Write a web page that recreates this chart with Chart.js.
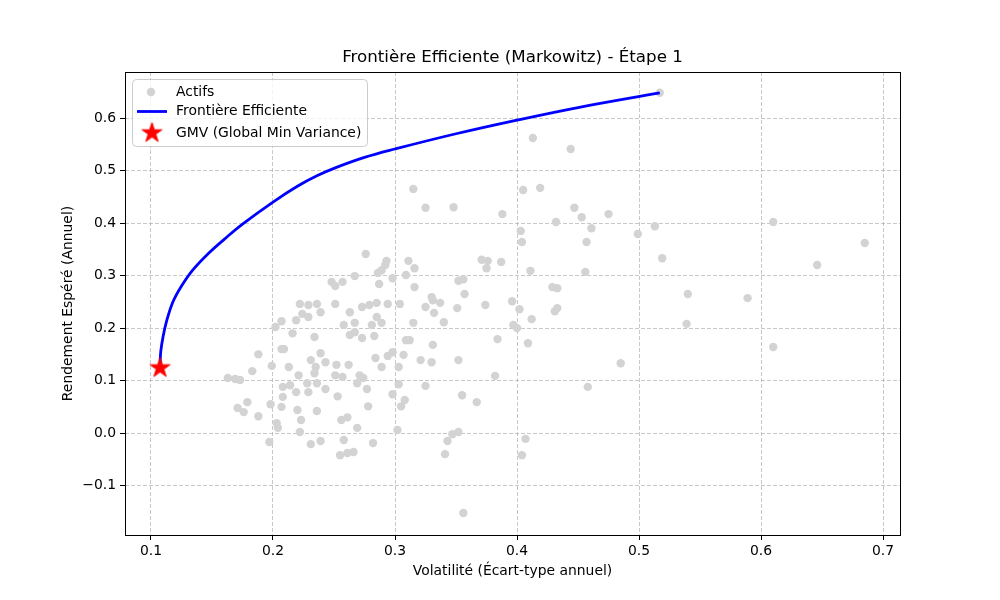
<!DOCTYPE html>
<html><head><meta charset="utf-8">
<script src="https://cdn.jsdelivr.net/npm/chart.js@4.4.0/dist/chart.umd.min.js"></script>
<style>html,body{margin:0;padding:0;background:#fff}#wrap{width:1000px;height:600px;position:relative}</style>
</head><body><div id="wrap"><canvas id="c" width="1000" height="600"></canvas></div>
<script>
const assetVol=[0.517,0.413,0.444,0.315,0.405,0.419,0.325,0.348,0.388,0.447,0.453,0.475,0.432,0.403,0.404,0.461,0.457,0.499,0.513,0.519,0.540,0.539,0.589,0.610,0.610,0.646,0.685,0.485,
0.371,0.376,0.375,0.387,0.411,0.456,0.356,0.352,0.429,0.433,0.357,0.374,0.396,0.402,0.351,0.433,0.431,0.412,0.397,0.400,0.384,0.409,0.352,0.382,0.458,0.355,
0.276,0.293,0.292,0.311,0.316,0.286,0.289,0.267,0.298,0.309,0.248,0.251,0.257,0.287,0.316,0.229,0.236,0.239,0.229,0.251,0.263,0.273,0.279,0.285,0.294,0.304,0.285,0.289,0.258,0.267,0.281,0.315,0.330,0.331,0.337,0.325,0.332,0.340,0.234,0.263,0.267,0.273,0.283,0.309,0.312,
0.331,0.239,0.231,0.243,0.235,0.234,0.252,0.262,0.284,0.294,0.298,0.307,0.321,0.330,0.289,0.303,0.251,0.257,0.271,0.274,0.269,0.228,0.236,0.229,0.243,0.253,0.277,0.303,0.325,0.298,0.308,0.305,0.278,0.236,0.256,0.261,0.269,0.302,0.231,0.239,0.258,0.282,0.255,0.261,0.266,0.343,0.347,0.352,0.341,0.356,0.404,0.407,
0.222,0.224,0.207,0.202,0.219,0.216,0.207,0.209,0.188,0.199,0.213,0.183,0.221,0.163,0.169,0.173,0.208,0.214,0.219,0.208,0.179,0.171,0.176,0.198,0.207,0.188,0.220,0.223,0.203,0.204,0.222,0.197,0.367];
const assetRet=[0.648,0.562,0.541,0.465,0.463,0.467,0.429,0.430,0.417,0.429,0.411,0.417,0.402,0.385,0.364,0.390,0.364,0.379,0.394,0.333,0.265,0.208,0.257,0.402,0.164,0.320,0.362,0.133,
0.330,0.328,0.314,0.326,0.309,0.307,0.293,0.290,0.278,0.276,0.265,0.244,0.251,0.236,0.238,0.238,0.232,0.217,0.206,0.200,0.179,0.171,0.139,0.109,0.088,0.072,
0.341,0.328,0.320,0.328,0.314,0.305,0.310,0.299,0.295,0.301,0.288,0.280,0.288,0.284,0.278,0.244,0.246,0.230,0.221,0.246,0.230,0.240,0.244,0.248,0.246,0.246,0.221,0.210,0.206,0.210,0.206,0.210,0.259,0.253,0.248,0.240,0.229,0.211,0.183,0.187,0.192,0.181,0.185,0.177,0.177,
0.168,0.152,0.139,0.135,0.126,0.114,0.130,0.130,0.143,0.147,0.154,0.149,0.139,0.135,0.126,0.126,0.110,0.107,0.110,0.105,0.095,0.095,0.095,0.078,0.084,0.070,0.084,0.093,0.090,0.074,0.063,0.051,0.051,0.042,0.025,0.030,0.010,0.006,-0.021,-0.015,-0.013,-0.019,-0.042,-0.038,-0.036,-0.015,-0.002,0.002,-0.040,-0.152,-0.042,-0.011,
0.246,0.227,0.213,0.202,0.215,0.190,0.160,0.160,0.150,0.128,0.126,0.118,0.110,0.105,0.103,0.101,0.088,0.091,0.078,0.069,0.059,0.048,0.040,0.055,0.050,0.032,0.044,0.025,0.019,0.010,0.002,-0.017,0.059];
const frontierVol=[0.1074,0.108,0.110,0.113,0.118,0.125,0.134,0.147,0.160,0.175,0.200,0.220,0.236,0.252,0.275,0.300,0.350,0.400,0.450,0.517];
const frontierRet=[0.124,0.155,0.185,0.215,0.250,0.280,0.310,0.342,0.369,0.398,0.440,0.470,0.490,0.506,0.525,0.541,0.570,0.596,0.620,0.648];
const gmvVol=[0.1074];
const gmvRet=[0.124];
const xTicks=[0.1,0.2,0.3,0.4,0.5,0.6,0.7];
const xTickLabels=['0.1','0.2','0.3','0.4','0.5','0.6','0.7'];
const yTicks=[-0.1,0.0,0.1,0.2,0.3,0.4,0.5,0.6];
const yTickLabels=['\u22120.1','0.0','0.1','0.2','0.3','0.4','0.5','0.6'];
const seriesLabels=['Actifs','Fronti\u00e8re Efficiente','GMV (Global Min Variance)'];
const chartTitle='Fronti\u00e8re Efficiente (Markowitz) - \u00c9tape 1';
const xTitle='Volatilit\u00e9 (\u00c9cart-type annuel)';
const yTitle='Rendement Esp\u00e9r\u00e9 (Annuel)';

const FONT="'DejaVu Sans', sans-serif";
function makeStar(r){
  const s=Math.ceil(r*2+4);const cv=document.createElement('canvas');cv.width=s;cv.height=s;
  const g=cv.getContext('2d');const c=s/2;const ri=r*0.381966;
  g.beginPath();
  for(let i=0;i<10;i++){const rad=i%2===0?r:ri;const a=-Math.PI/2+i*Math.PI/5;const px=c+rad*Math.cos(a),py=c+rad*Math.sin(a);i?g.lineTo(px,py):g.moveTo(px,py);}
  g.closePath();g.fillStyle='#ff0000';g.fill();g.lineWidth=1;g.strokeStyle='#ff0000';g.stroke();
  return cv;
}
const star=makeStar(10.5);

const deco={id:'deco',afterDraw(chart){
  const ctx=chart.ctx;const a=chart.chartArea;
  ctx.save();
  ctx.strokeStyle='#000';ctx.lineWidth=1;ctx.setLineDash([]);
  ctx.strokeRect(Math.round(a.left)+0.5,Math.round(a.top)+0.5,Math.round(a.right-a.left),Math.round(a.bottom-a.top));
  ctx.fillStyle='#000';ctx.textAlign='center';ctx.textBaseline='middle';
  ctx.font='16.7px '+FONT;ctx.fillText(chartTitle,(a.left+a.right)/2,58);
  ctx.font='13.9px '+FONT;ctx.fillText(xTitle,(a.left+a.right)/2,571);
  ctx.save();ctx.translate(68,(a.top+a.bottom)/2);ctx.rotate(-Math.PI/2);ctx.fillText(yTitle,0,0);ctx.restore();
  const lx=132,ly=79,lw=235,lh=67,rr=4;
  ctx.beginPath();ctx.roundRect(lx+0.5,ly+0.5,lw,lh,rr);
  ctx.fillStyle='rgba(255,255,255,0.8)';ctx.fill();ctx.strokeStyle='#cccccc';ctx.lineWidth=1;ctx.stroke();
  ctx.fillStyle='#d3d3d3';ctx.beginPath();ctx.arc(151,92,4.2,0,Math.PI*2);ctx.fill();
  ctx.strokeStyle='#0000ff';ctx.lineWidth=2.8;ctx.beginPath();ctx.moveTo(137,111.5);ctx.lineTo(167,111.5);ctx.stroke();
  ctx.drawImage(star,152-star.width/2,133-star.height/2);
  ctx.fillStyle='#000';ctx.textAlign='left';ctx.font='13.9px '+FONT;
  ctx.fillText(seriesLabels[0],176,92);ctx.fillText(seriesLabels[1],176,111.5);ctx.fillText(seriesLabels[2],176,133);
  ctx.restore();
}};

const gridCommon={color:'rgba(176,176,176,0.7)',lineWidth:1,tickColor:'#000',tickLength:5,tickWidth:1,tickBorderDash:[],drawTicks:true};
new Chart(document.getElementById('c'),{
  type:'scatter',
  data:{datasets:[
    {label:seriesLabels[0],data:assetVol.map((v,i)=>({x:v,y:assetRet[i]})),backgroundColor:'#d3d3d3',borderWidth:0,pointRadius:4.2,pointHoverRadius:4.2,order:3},
    {label:seriesLabels[1],type:'line',data:frontierVol.map((v,i)=>({x:v,y:frontierRet[i]})),borderColor:'#0000ff',borderWidth:2.8,pointRadius:0,fill:false,tension:0.4,order:2},
    {label:seriesLabels[2],data:gmvVol.map((v,i)=>({x:v,y:gmvRet[i]})),pointStyle:star,pointRadius:10,order:1}
  ]},
  options:{
    responsive:false,animation:false,devicePixelRatio:1,
    layout:{padding:{left:0,top:72,right:100,bottom:0}},
    plugins:{legend:{display:false},tooltip:{enabled:false},title:{display:false}},
    scales:{
      x:{type:'linear',min:0.0787,max:0.7139,
        afterBuildTicks:s=>{s.ticks=xTicks.map(v=>({value:v}));},
        afterFit:s=>{s.height=65;},
        ticks:{color:'#000',font:{family:FONT,size:13.9},padding:3,maxRotation:0,autoSkip:false,
          callback:(v)=>{const i=xTicks.findIndex(t=>Math.abs(t-v)<1e-9);return i>=0?xTickLabels[i]:'';}},
        grid:gridCommon,border:{display:false,dash:[4,2]}},
      y:{type:'linear',min:-0.194,max:0.6876,
        afterBuildTicks:s=>{s.ticks=yTicks.map(v=>({value:v}));},
        afterFit:s=>{s.width=125;},
        ticks:{color:'#000',font:{family:FONT,size:13.9},padding:4,autoSkip:false,
          callback:(v)=>{const i=yTicks.findIndex(t=>Math.abs(t-v)<1e-9);return i>=0?yTickLabels[i]:'';}},
        grid:gridCommon,border:{display:false,dash:[4,2]}}
    }
  },
  plugins:[deco]
});
</script></body></html>
